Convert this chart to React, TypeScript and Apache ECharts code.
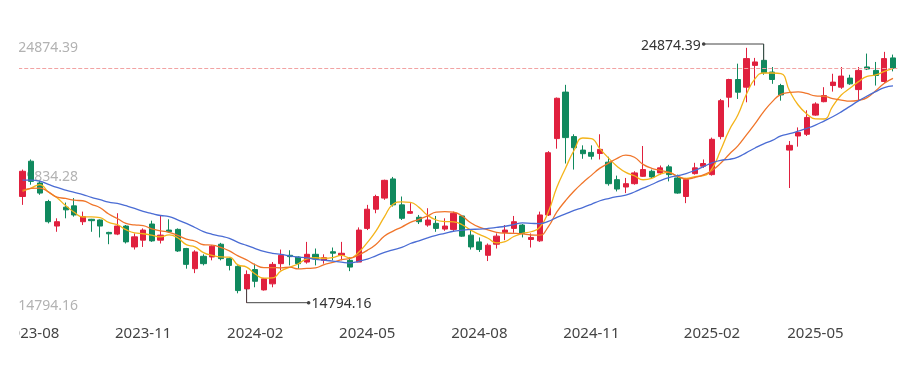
import React, { useEffect, useRef } from "react";
import * as echarts from "echarts";

// Weekly candles (week ending Friday)
const categories = [
  "2023-07-28", "2023-08-04", "2023-08-11", "2023-08-18", "2023-08-25", "2023-09-01", "2023-09-08", "2023-09-15",
  "2023-09-22", "2023-09-29", "2023-10-06", "2023-10-13", "2023-10-20", "2023-10-27", "2023-11-03", "2023-11-10",
  "2023-11-17", "2023-11-24", "2023-12-01", "2023-12-08", "2023-12-15", "2023-12-22", "2023-12-29", "2024-01-05",
  "2024-01-12", "2024-01-19", "2024-01-26", "2024-02-02", "2024-02-09", "2024-02-16", "2024-02-23", "2024-03-01",
  "2024-03-08", "2024-03-15", "2024-03-22", "2024-03-29", "2024-04-05", "2024-04-12", "2024-04-19", "2024-04-26",
  "2024-05-03", "2024-05-10", "2024-05-17", "2024-05-24", "2024-05-31", "2024-06-07", "2024-06-14", "2024-06-21",
  "2024-06-28", "2024-07-05", "2024-07-12", "2024-07-19", "2024-07-26", "2024-08-02", "2024-08-09", "2024-08-16",
  "2024-08-23", "2024-08-30", "2024-09-06", "2024-09-13", "2024-09-20", "2024-09-27", "2024-10-04", "2024-10-11",
  "2024-10-18", "2024-10-25", "2024-11-01", "2024-11-08", "2024-11-15", "2024-11-22", "2024-11-29", "2024-12-06",
  "2024-12-13", "2024-12-20", "2024-12-27", "2025-01-03", "2025-01-10", "2025-01-17", "2025-01-24", "2025-01-31",
  "2025-02-07", "2025-02-14", "2025-02-21", "2025-02-28", "2025-03-07", "2025-03-14", "2025-03-21", "2025-03-28",
  "2025-04-04", "2025-04-11", "2025-04-18", "2025-04-25", "2025-05-02", "2025-05-09", "2025-05-16", "2025-05-23",
  "2025-05-30", "2025-06-06", "2025-06-13", "2025-06-20", "2025-06-27", "2025-07-04",
];

const opens = [
  18932, 20308, 19459, 18736, 17781, 18516, 18567, 17950, 18044, 18017, 17533, 17467, 17781, 16967, 17231, 17860,
  17231, 17624, 17651, 16905, 16119, 16602, 16575, 17073, 16511, 16209, 15332, 16085, 15293, 15529, 16315, 16641,
  16575, 16378, 16680, 16445, 16780, 16640, 16445, 16378, 17690, 18437, 18870, 19616, 18606, 18280, 18122, 17820,
  17886, 17663, 17651, 18174, 17427, 17164, 16641, 17073, 17533, 17690, 17820, 17258, 17204, 18213, 21188, 23000,
  21266, 20740, 20650, 20610, 20270, 19589, 19302, 19432, 19719, 19916, 19852, 20087, 19655, 18932, 19824, 20113,
  19785, 21266, 22800, 23491, 23192, 24041, 24238, 23782, 23255, 20740, 21290, 21357, 22104, 22627, 23255, 23192,
  23546, 23098, 23980, 23845, 23413, 24332,
];

const closes = [
  19915, 19522, 19066, 17950, 17950, 18412, 18213, 18146, 17990, 17781, 17478, 17781, 17164, 17360, 17624, 17203,
  17427, 17557, 16810, 16288, 16771, 16315, 16995, 16511, 16248, 15266, 15895, 15629, 15726, 16288, 16641, 16589,
  16315, 16680, 16500, 16550, 16724, 16720, 16182, 17624, 18437, 18932, 19562, 18606, 18083, 18343, 17950, 18017,
  17690, 17781, 18280, 17388, 16967, 16865, 17034, 17388, 17624, 17950, 17494, 17337, 18213, 20638, 22760, 21227,
  20834, 20600, 20500, 20768, 19431, 19223, 19432, 19852, 19982, 19695, 20048, 19785, 19066, 19589, 20048, 20218,
  21161, 22665, 23491, 22996, 24305, 24175, 23755, 23491, 22890, 20925, 21424, 22013, 22536, 22863, 23389, 23625,
  23322, 23845, 23900, 23648, 24305, 23930,
];

const lows = [
  18606, 19392, 18999, 17885, 17557, 18083, 18146, 17820, 17557, 17337, 17073, 17427, 17101, 16865, 16967, 17164,
  17101, 17518, 16771, 16119, 15946, 16248, 16445, 16445, 16052, 15160, 14794.16, 15395, 15266, 15395, 16052, 16248,
  16119, 16315, 16248, 16315, 16445, 16445, 16024, 16378, 17624, 18280, 18803, 18540, 18017, 18253, 17860, 17754,
  17557, 17596, 17560, 17360, 16865, 16771, 16417, 16905, 17231, 17518, 17337, 16944, 17164, 18174, 20795, 20218,
  19982, 20402, 20375, 20375, 19353, 19130, 19066, 19392, 19695, 19616, 19785, 19522, 19040, 18673, 19785, 20048,
  19746, 21161, 22406, 22733, 22603, 23255, 23676, 23322, 22666, 19263, 20874, 21290, 22078, 22603, 23019, 23126,
  23283, 22666, 23860, 23255, 23362, 23808,
];

const highs = [
  19982, 20375, 19540, 18803, 18083, 18696, 18870, 18343, 18060, 18040, 17557, 18280, 17820, 17494, 17690, 17990,
  18174, 18044, 17690, 16930, 16838, 16680, 17034, 17125, 16551, 16248, 16052, 16315, 15760, 16378, 16865, 16838,
  16600, 17164, 16905, 16680, 16944, 17164, 16575, 17729, 18606, 19000, 19589, 19695, 18932, 18673, 18213, 18476,
  18174, 18083, 18343, 18213, 17651, 17337, 17101, 17494, 17820, 18174, 17860, 17494, 18343, 20700, 22790, 23283,
  21357, 20925, 20925, 21357, 20481, 19746, 19655, 19916, 20900, 19982, 20140, 20166, 19785, 19655, 20245, 20375,
  21227, 22733, 23519, 24108, 24725, 24332, 24874.39, 23978, 23322, 21094, 21624, 22290, 22603, 23192, 23715, 23978,
  23676, 23978, 24501, 24175, 24568, 24462,
];

// Closes of the weeks just before the visible range (only feed the moving averages)
const priorCloses = [
  19518, 19916, 20400, 20331, 20438, 20075, 19895, 20049, 19628, 19451, 18747, 18950, 19390, 20041, 18890, 18916,
  18365, 19413, 19075,
];

const yTickLabels = [24874.39, 19834.28, 14794.16];
const xLabelMonths = ["02", "05", "08", "11"];
const maPeriods = [5, 10, 20];
const maColors = ["#f4b41a", "#f0752a", "#4a6cd4"];
const maxPoint = { index: 86, value: 24874.39 };
const minPoint = { index: 26, value: 14794.16 };

const RED = "#e0203e";
const GREEN = "#10895e";
const FONT = "'Noto Sans', 'Open Sans', sans-serif";

function movingAverage(period: number) {
  const all = priorCloses.concat(closes);
  const off = priorCloses.length;
  return closes.map((_, i) => {
    const end = off + i;
    const start = end - period + 1;
    if (start < 0) return "-";
    let s = 0;
    for (let k = start; k <= end; k++) s += all[k];
    return +(s / period).toFixed(2);
  });
}

export default function App() {
  const ref = useRef<HTMLDivElement>(null);

  useEffect(() => {
    if (!ref.current) return;
    const chart = echarts.init(ref.current, undefined, { renderer: "svg" });
    const yMin = yTickLabels[2];
    const yMax = yTickLabels[0];
    const candleData = categories.map((_, i) => [opens[i], closes[i], lows[i], highs[i]]);
    const labelIdx = new Set<number>();
    categories.forEach((c, i) => {
      const m = c.slice(5, 7);
      if (i > 0 && categories[i - 1].slice(5, 7) !== m && xLabelMonths.includes(m)) labelIdx.add(i);
    });
    const lastClose = closes[closes.length - 1];

    chart.setOption({
      animation: false,
      textStyle: { fontFamily: FONT },
      grid: { left: 16.9, right: 2.7, top: 44, bottom: 80.3 },
      xAxis: {
        type: "category",
        data: categories,
        boundaryGap: true,
        axisLine: { show: false },
        axisTick: { show: false },
        splitLine: { show: false },
        axisLabel: {
          interval: (i: number) => labelIdx.has(i),
          formatter: (v: string) => v.slice(0, 7),
          color: "#444",
          fontSize: 15,
          fontFamily: FONT,
          margin: 22,
        },
      },
      yAxis: {
        type: "value",
        min: yMin,
        max: yMax,
        axisLabel: { show: false },
        axisLine: { show: false },
        axisTick: { show: false },
        splitLine: { show: false },
      },
      series: [
        {
          type: "candlestick",
          data: candleData,
          barWidth: "66%",
          itemStyle: { color: RED, color0: GREEN, borderColor: RED, borderColor0: GREEN, borderWidth: 1 },
          markLine: {
            silent: true,
            symbol: ["none", "none"],
            label: { show: false },
            lineStyle: { type: "dashed", color: "#f2a3a3", width: 1 },
            data: [{ yAxis: lastClose }],
          },
        },
        ...maPeriods.map((p, k) => ({
          type: "line",
          name: "MA" + p,
          data: movingAverage(p),
          smooth: true,
          showSymbol: false,
          symbol: "none",
          lineStyle: { width: 1.3, color: maColors[k] },
          z: 3,
        })),
      ],
    });

    const px = (i: number, v: number) =>
      chart.convertToPixel({ xAxisIndex: 0, yAxisIndex: 0 }, [i, v]) as number[];

    const graphics: any[] = [];
    yTickLabels.forEach((v) => {
      const p = px(0, v);
      graphics.push({
        type: "text",
        x: 18.3,
        y: p[1] + 2,
        z: 0,
        style: {
          text: v.toFixed(2),
          fill: "#b2b2b2",
          fontSize: 14,
          fontFamily: FONT,
          textAlign: "left",
          textVerticalAlign: "middle",
        },
      });
    });

    const annot = (pt: { index: number; value: number }, isMax: boolean) => {
      const i = pt.index;
      const bodyEdge = isMax ? Math.max(opens[i], closes[i]) : Math.min(opens[i], closes[i]);
      const p1 = px(i, bodyEdge);
      const p2 = px(i, pt.value);
      const p3 = [p2[0] + (isMax ? -60 : 62), p2[1]];
      graphics.push({
        type: "polyline",
        z: 10,
        shape: { points: [p1, p2, p3] },
        style: { stroke: "#444", lineWidth: 1, fill: null },
      });
      graphics.push({ type: "circle", z: 10, shape: { cx: p3[0], cy: p3[1], r: 1.8 }, style: { fill: "#444" } });
      graphics.push({
        type: "text",
        z: 10,
        x: p3[0] + (isMax ? -3 : 3),
        y: p3[1],
        style: {
          text: pt.value.toFixed(2),
          fill: "#333",
          fontSize: 14,
          fontFamily: FONT,
          textAlign: isMax ? "right" : "left",
          textVerticalAlign: "middle",
        },
      });
    };
    annot(maxPoint, true);
    annot(minPoint, false);

    chart.setOption({ graphic: graphics });

    return () => chart.dispose();
  }, []);

  return (
    <div
      style={{
        position: "fixed",
        left: 18.5,
        top: 0,
        width: 881.5,
        height: 383,
        overflow: "hidden",
        background: "#fff",
      }}
    >
      <div ref={ref} style={{ position: "absolute", left: -18.5, top: 0, width: 900, height: 383 }} />
    </div>
  );
}
